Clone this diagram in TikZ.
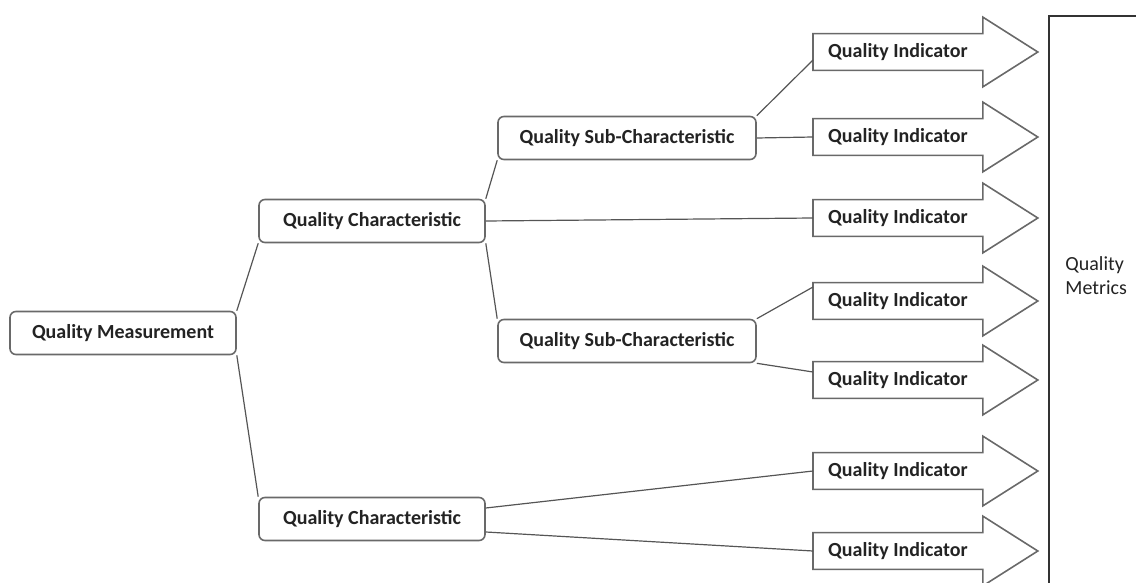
\documentclass[tikz,border=0pt]{standalone}
\usepackage{fontspec}
\setmainfont{Carlito}
\usetikzlibrary{calc}
\definecolor{linecol}{RGB}{85,85,85}
\definecolor{boxcol}{RGB}{105,105,105}
\definecolor{txtcol}{RGB}{35,35,35}

% outline of an indicator arrow round its body node
\newcommand{\indarrow}[1]{%
  \draw[arrline] (#1.south west) -- (#1.north west) -- (#1.north east) -- ++(0,8.25pt)
    -- ($(#1.east)+(27.5pt,0)$) -- ($(#1.south east)+(0,-8.25pt)$) -- (#1.south east) -- cycle;}

\begin{document}
\begin{tikzpicture}[
  x=0.5pt, y=-0.5pt,
  qbox/.style={rectangle, rounded corners=3pt, draw=boxcol, line width=0.8pt, fill=white,
               minimum width=#1, minimum height=21.5pt, font=\bfseries, text=txtcol,
               inner sep=2pt, align=center},
  qbox/.default={113pt},
  qind/.style={rectangle, anchor=west, minimum width=84.5pt, minimum height=18pt,
               inner sep=0pt, font=\bfseries, text=txtcol},
  arrline/.style={draw=boxcol, line width=0.8pt, line join=miter},
  link/.style={draw=linecol, line width=0.6pt},
]
  \useasboundingbox (0,0) rectangle (1136,583);

  % Column 1: root
  \node[qbox] (meas) at (123,333) {Quality Measurement};

  % Column 2: characteristics
  \node[qbox] (char1) at (372,221) {Quality Characteristic};
  \node[qbox] (char2) at (372,519) {Quality Characteristic};

  % Column 3: sub-characteristics
  \node[qbox=129pt] (sub1) at (627,138) {Quality Sub-Characteristic};
  \node[qbox=129pt] (sub2) at (627,341) {Quality Sub-Characteristic};

  % Column 4: indicators
  \node[qind] (ind1) at (813,52)  {Quality Indicator};
  \node[qind] (ind2) at (813,137) {Quality Indicator};
  \node[qind] (ind3) at (813,218) {Quality Indicator};
  \node[qind] (ind4) at (813,301) {Quality Indicator};
  \node[qind] (ind5) at (813,380) {Quality Indicator};
  \node[qind] (ind6) at (813,471) {Quality Indicator};
  \node[qind] (ind7) at (813,551) {Quality Indicator};
  \indarrow{ind1} \indarrow{ind2} \indarrow{ind3} \indarrow{ind4}
  \indarrow{ind5} \indarrow{ind6} \indarrow{ind7}

  % Metrics frame
  \node[draw=black!80, line width=0.9pt, anchor=north west, inner sep=0pt,
        minimum width=60pt, minimum height=320pt] (metrics) at (1048,15) {};
  \node[anchor=north west, align=left, inner sep=0pt, text=txtcol] (mlabel) at (1065,256) {Quality\\Metrics};

  % Links
  \draw[link] (meas.north east) -- (char1.south west);
  \draw[link] (meas.south east) -- (char2.north west);
  \draw[link] (char1.north east) -- (sub1.south west);
  \draw[link] (char1.south east) -- (sub2.north west);
  \draw[link] (char1.east) -- (ind3.west);
  \draw[link] (sub1.north east) -- ($(ind1.west)+(0,-4pt)$);
  \draw[link] (sub1.east) -- (ind2.west);
  \draw[link] (sub2.north east) -- ($(ind4.west)+(0,7pt)$);
  \draw[link] (sub2.south east) -- ($(ind5.west)+(0,4pt)$);
  \draw[link] ($(char2.east)+(0,5.5pt)$) -- (ind6.west);
  \draw[link] ($(char2.east)+(0,-6.5pt)$) -- (ind7.west);

\end{tikzpicture}
\end{document}
